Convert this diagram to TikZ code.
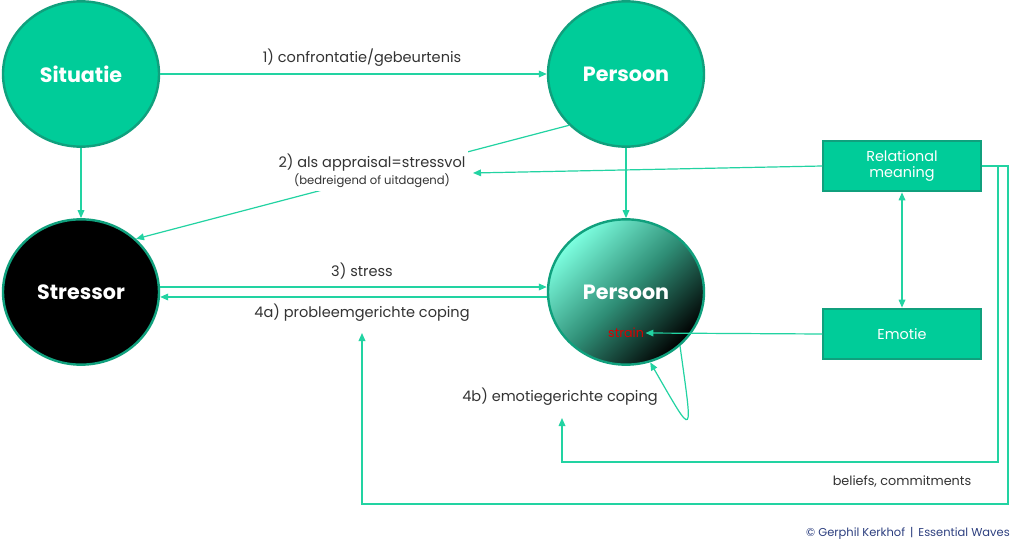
\documentclass[tikz,border=0pt]{standalone}
\usepackage{fontspec}
\setmainfont{Poppins}
\usetikzlibrary{arrows.meta,shapes.geometric}
\definecolor{gr}{HTML}{00CC99}
\definecolor{grb}{HTML}{10A07D}
\definecolor{ln}{HTML}{22D3A2}
\definecolor{txt}{HTML}{333333}
\definecolor{lite}{HTML}{7DFFE0}
\definecolor{mid}{HTML}{2F8E76}
\definecolor{copy}{HTML}{2E4080}
\begin{document}
\begin{tikzpicture}[x=0.75pt,y=-0.75pt,
  circ/.style={ellipse,draw=grb,line width=1.8pt,fill=gr,minimum width=117pt,minimum height=109pt,inner sep=0pt,text=white,font=\fontsize{15.5}{18}\selectfont\bfseries},
  box/.style={rectangle,draw=grb,line width=1.5pt,fill=gr,minimum width=118pt,minimum height=38pt,inner sep=0pt,text=white,align=center,font=\fontsize{10.8}{12.5}\selectfont},
  arr/.style={draw=ln,line width=0.9pt,-{Triangle[length=6pt,width=5pt]}},
  arrb/.style={draw=ln,line width=0.9pt,{Triangle[length=6pt,width=5pt]}-{Triangle[length=6pt,width=5pt]}},
  lbl/.style={text=txt,font=\fontsize{10.9}{13}\selectfont,inner sep=1pt}]
\useasboundingbox (0,0) rectangle (1024,549);
\fill[white] (0,0) rectangle (1024,549);

\node[circ] (sit) at (81,74) {Situatie};
\node[circ] (pers) at (626,74) {Persoon};
\node[circ,fill=black] (str) at (81,292) {Stressor};
\node[circ,top color=lite,bottom color=black,middle color=mid,shading angle=45] (pers2) at (626,292) {Persoon};
\node[text=red!85!black,font=\fontsize{9.5}{11}\selectfont,inner sep=1pt] (strain) at (626,333) {strain};

\node[box] (rel) at (902,166) {Relational\\meaning};
\node[box] (emo) at (902,334) {Emotie};

% 1
\draw[arr] (sit) -- (pers);
\node[lbl] (l1) at (362,58) {1) confrontatie/gebeurtenis};
\draw[arr] (sit) -- (str);
\draw[arr] (pers) -- (pers2);

% 2
\draw[arr] (pers.222) -- (str.44);
\node[fill=white,text=txt,align=center,inner sep=2pt] (l2) at (372,171)
  {{\fontsize{10.9}{13}\selectfont 2) als appraisal=stressvol}\\[1pt]{\fontsize{8.7}{10}\selectfont (bedreigend of uitdagend)}};
\coordinate (t2) at (473,173);
\draw[arr] (rel.west) -- (t2);

% 3 / 4a
\draw[arr] ([yshift=3.75pt]str.east) -- ([yshift=3.75pt]pers2.west);
\draw[arr] ([yshift=-3.75pt]pers2.west) -- ([yshift=-3.75pt]str.east);
\node[lbl] (l3) at (362,271) {3) stress};
\node[lbl] (l4a) at (362,313) {4a) probleemgerichte coping};

% emotie
\draw[arrb] (rel) -- (emo);
\draw[arr] (emo.west) -- (strain.east);

% self loop
\draw[arr] (pers2.-45) .. controls (693,440) and (695,440) .. (pers2.-71);
\node[lbl] (l4b) at (560,397) {4b) emotiegerichte coping};

% feedback lines
\coordinate (c1) at (998,462);
\coordinate (t4b) at (562,418);
\draw[arr] (rel.east) -| (c1) -| (t4b);
\coordinate (c2) at (1008,504);
\coordinate (t4a) at (362,333);
\draw[arr] (rel.east) -| (c2) -| (t4a);
\node[lbl,font=\fontsize{9.6}{11}\selectfont] (lb) at (902,482) {beliefs, commitments};

\node[text=copy,font=\fontsize{8.6}{10}\selectfont,inner sep=0pt] (cp) at (908,533) {© Gerphil Kerkhof \,|\, Essential Waves};
\end{tikzpicture}
\end{document}
